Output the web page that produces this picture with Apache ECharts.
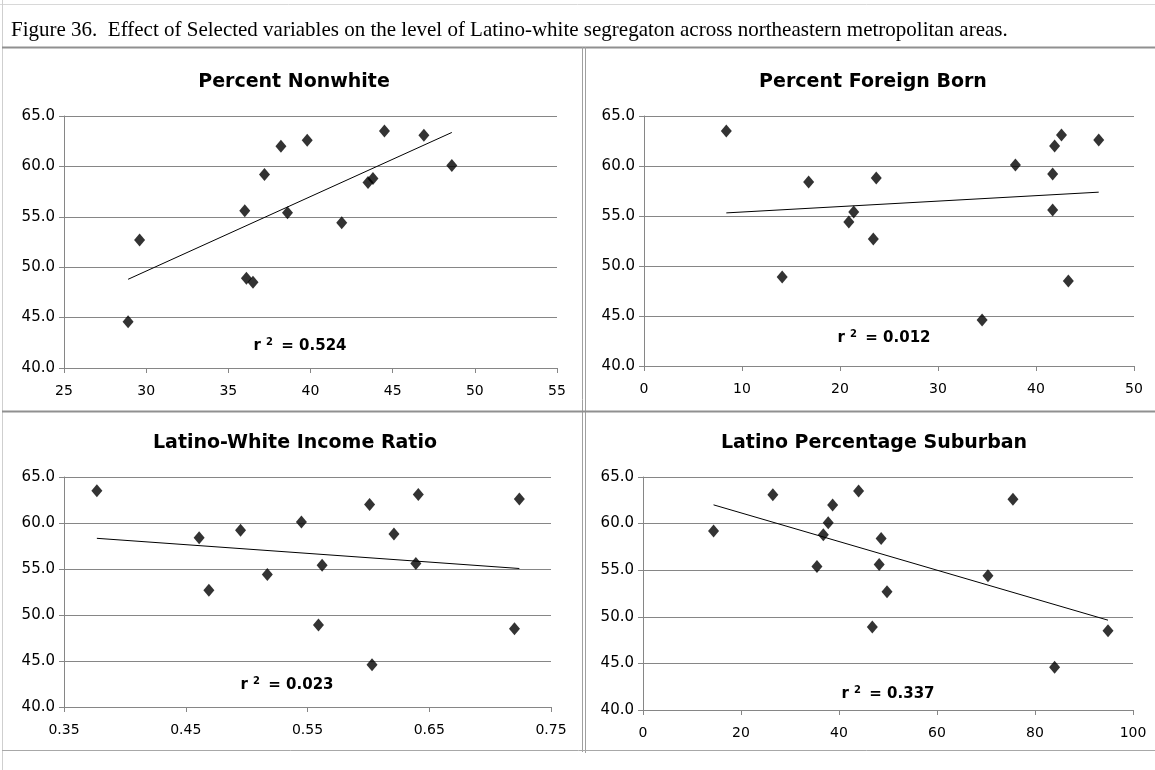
<!DOCTYPE html>
<html><head><meta charset="utf-8">
<script src="https://cdn.jsdelivr.net/npm/echarts@6/dist/echarts.min.js"></script>
<style>html,body{margin:0;padding:0;background:#fff}#c{width:1155px;height:770px}</style>
</head><body><div id="c"></div>
<script>
// Segregation index (y) shared by all four panels, one value per metro area
const segregation = [63.5, 63.1, 62.6, 62.0, 60.1, 59.2, 58.8, 58.4, 55.6, 55.4, 54.4, 52.7, 48.9, 48.5, 44.6];
// Predictors (x), same metro order
const pctNonwhite    = [44.5, 46.9, 39.8, 38.2, 48.6, 37.2, 43.8, 43.5, 36.0, 38.6, 41.9, 29.6, 36.1, 36.5, 28.9];
const pctForeignBorn = [8.4, 42.6, 46.4, 41.9, 37.9, 41.7, 23.7, 16.8, 41.7, 21.4, 20.9, 23.4, 14.1, 43.3, 34.5];
const incomeRatio    = [0.377, 0.641, 0.724, 0.601, 0.545, 0.495, 0.621, 0.461, 0.639, 0.562, 0.517, 0.469, 0.559, 0.720, 0.603];
const pctSuburban    = [44.0, 26.5, 75.5, 38.7, 37.8, 14.4, 36.8, 48.6, 48.2, 35.5, 70.4, 49.8, 46.8, 94.9, 84.0];

const figureTitle = 'Figure 36.  Effect of Selected variables on the level of Latino-white segregaton across northeastern metropolitan areas.';
const panelTitles = ['Percent Nonwhite', 'Percent Foreign Born', 'Latino-White Income Ratio', 'Latino Percentage Suburban'];
const r2Values = ['0.524', '0.012', '0.023', '0.337'];
const xRanges = [[25, 55, 5], [0, 50, 10], [0.35, 0.75, 0.1], [0, 100, 20]];
const yRange = [40, 65, 5];
const xDecimals = [0, 0, 2, 0];

const xs = [pctNonwhite, pctForeignBorn, incomeRatio, pctSuburban];

// layout (pixels)
const grids = [
  {left: 64,  top: 116, width: 493, height: 252},
  {left: 644, top: 116, width: 490, height: 250},
  {left: 64,  top: 477, width: 487, height: 230},
  {left: 643, top: 477, width: 490, height: 233}
];
const titlePos = [[294, 82], [873, 82], [295, 443], [874, 443]];
const r2Pos = [[300, 346], [884, 338], [287, 685], [888, 694]];

function fit(x, y) {
  const n = x.length;
  let sx = 0, sy = 0, sxx = 0, sxy = 0;
  for (let i = 0; i < n; i++) { sx += x[i]; sy += y[i]; sxx += x[i]*x[i]; sxy += x[i]*y[i]; }
  const b = (n*sxy - sx*sy) / (n*sxx - sx*sx);
  const a = (sy - b*sx) / n;
  const x0 = Math.min(...x), x1 = Math.max(...x);
  return [[x0, a + b*x0], [x1, a + b*x1]];
}

const FONT = '"DejaVu Sans", Verdana, sans-serif';
const AX = '#868686';

const option = {
  backgroundColor: '#fff',
  animation: false,
  grid: grids.map(g => Object.assign({containLabel: false}, g)),
  xAxis: xRanges.map((r, i) => ({
    gridIndex: i, type: 'value', min: r[0], max: r[1], interval: r[2],
    axisLine: {show: true, onZero: false, lineStyle: {color: AX, width: 1}},
    axisTick: {show: true, length: 5, lineStyle: {color: AX}},
    axisLabel: {color: '#000', fontFamily: FONT, fontSize: 14, margin: 16,
      formatter: v => v.toFixed(xDecimals[i])},
    splitLine: {show: false}
  })),
  yAxis: xRanges.map((r, i) => ({
    gridIndex: i, type: 'value', min: yRange[0], max: yRange[1], interval: yRange[2],
    axisLine: {show: true, lineStyle: {color: AX, width: 1}},
    axisTick: {show: true, length: 5, lineStyle: {color: AX}},
    axisLabel: {color: '#000', fontFamily: FONT, fontSize: 15, margin: 9,
      formatter: v => v.toFixed(1)},
    splitLine: {show: true, lineStyle: {color: AX, width: 1}}
  })),
  series: [],
  graphic: []
};

xs.forEach((x, i) => {
  option.series.push({
    type: 'scatter', xAxisIndex: i, yAxisIndex: i,
    symbol: 'diamond', symbolSize: [11, 13],
    itemStyle: {color: '#000'},
    data: x.map((v, k) => [v, segregation[k]]),
    z: 3
  });
  option.series.push({
    type: 'line', xAxisIndex: i, yAxisIndex: i,
    symbol: 'none', lineStyle: {color: '#000', width: 1},
    data: fit(x, segregation), z: 2
  });
});

// frame & texts
const G = option.graphic;
const lineStyle = {stroke: '#a0a0a0', lineWidth: 1};
G.push({type: 'text', x: 11, y: 30, style: {text: figureTitle, font: '21px "Liberation Serif", "Times New Roman", serif', fill: '#000', textVerticalAlign: 'middle'}});
G.push({type: 'line', shape: {x1: 0, y1: 4.5, x2: 1155, y2: 4.5}, style: {stroke: '#d8d8d8', lineWidth: 1}});
G.push({type: 'line', shape: {x1: 2.5, y1: 0, x2: 2.5, y2: 770}, style: {stroke: '#cfcfcf', lineWidth: 1}});
G.push({type: 'line', shape: {x1: 2, y1: 47.5, x2: 1155, y2: 47.5}, style: {stroke: '#909090', lineWidth: 2}});
G.push({type: 'line', shape: {x1: 582.5, y1: 47, x2: 582.5, y2: 752}, style: lineStyle});
G.push({type: 'line', shape: {x1: 585.5, y1: 47, x2: 585.5, y2: 753}, style: lineStyle});
G.push({type: 'line', shape: {x1: 2, y1: 411.5, x2: 1155, y2: 411.5}, style: {stroke: '#909090', lineWidth: 2}});
G.push({type: 'line', shape: {x1: 2, y1: 750.5, x2: 1155, y2: 750.5}, style: {stroke: '#a8a8a8', lineWidth: 1}});
panelTitles.forEach((t, i) => {
  G.push({type: 'text', x: titlePos[i][0], y: titlePos[i][1],
    style: {text: t, font: 'bold 19px ' + FONT, fill: '#000', textAlign: 'center', textVerticalAlign: 'middle'}, z: 10});
});
r2Values.forEach((v, i) => {
  G.push({type: 'text', x: r2Pos[i][0], y: r2Pos[i][1],
    style: {
      text: '{a|r }{s|2}{a| = ' + v + '}',
      textAlign: 'center', textVerticalAlign: 'middle',
      rich: {
        a: {fontFamily: FONT, fontWeight: 'bold', fontSize: 15, fill: '#000'},
        s: {fontFamily: FONT, fontWeight: 'bold', fontSize: 10, fill: '#000', verticalAlign: 'top', padding: [0, 3, 8, 0]}
      }
    }, z: 10});
});

const chart = echarts.init(document.getElementById('c'), null, {renderer: 'canvas'});
chart.setOption(option);
</script>
</body></html>
